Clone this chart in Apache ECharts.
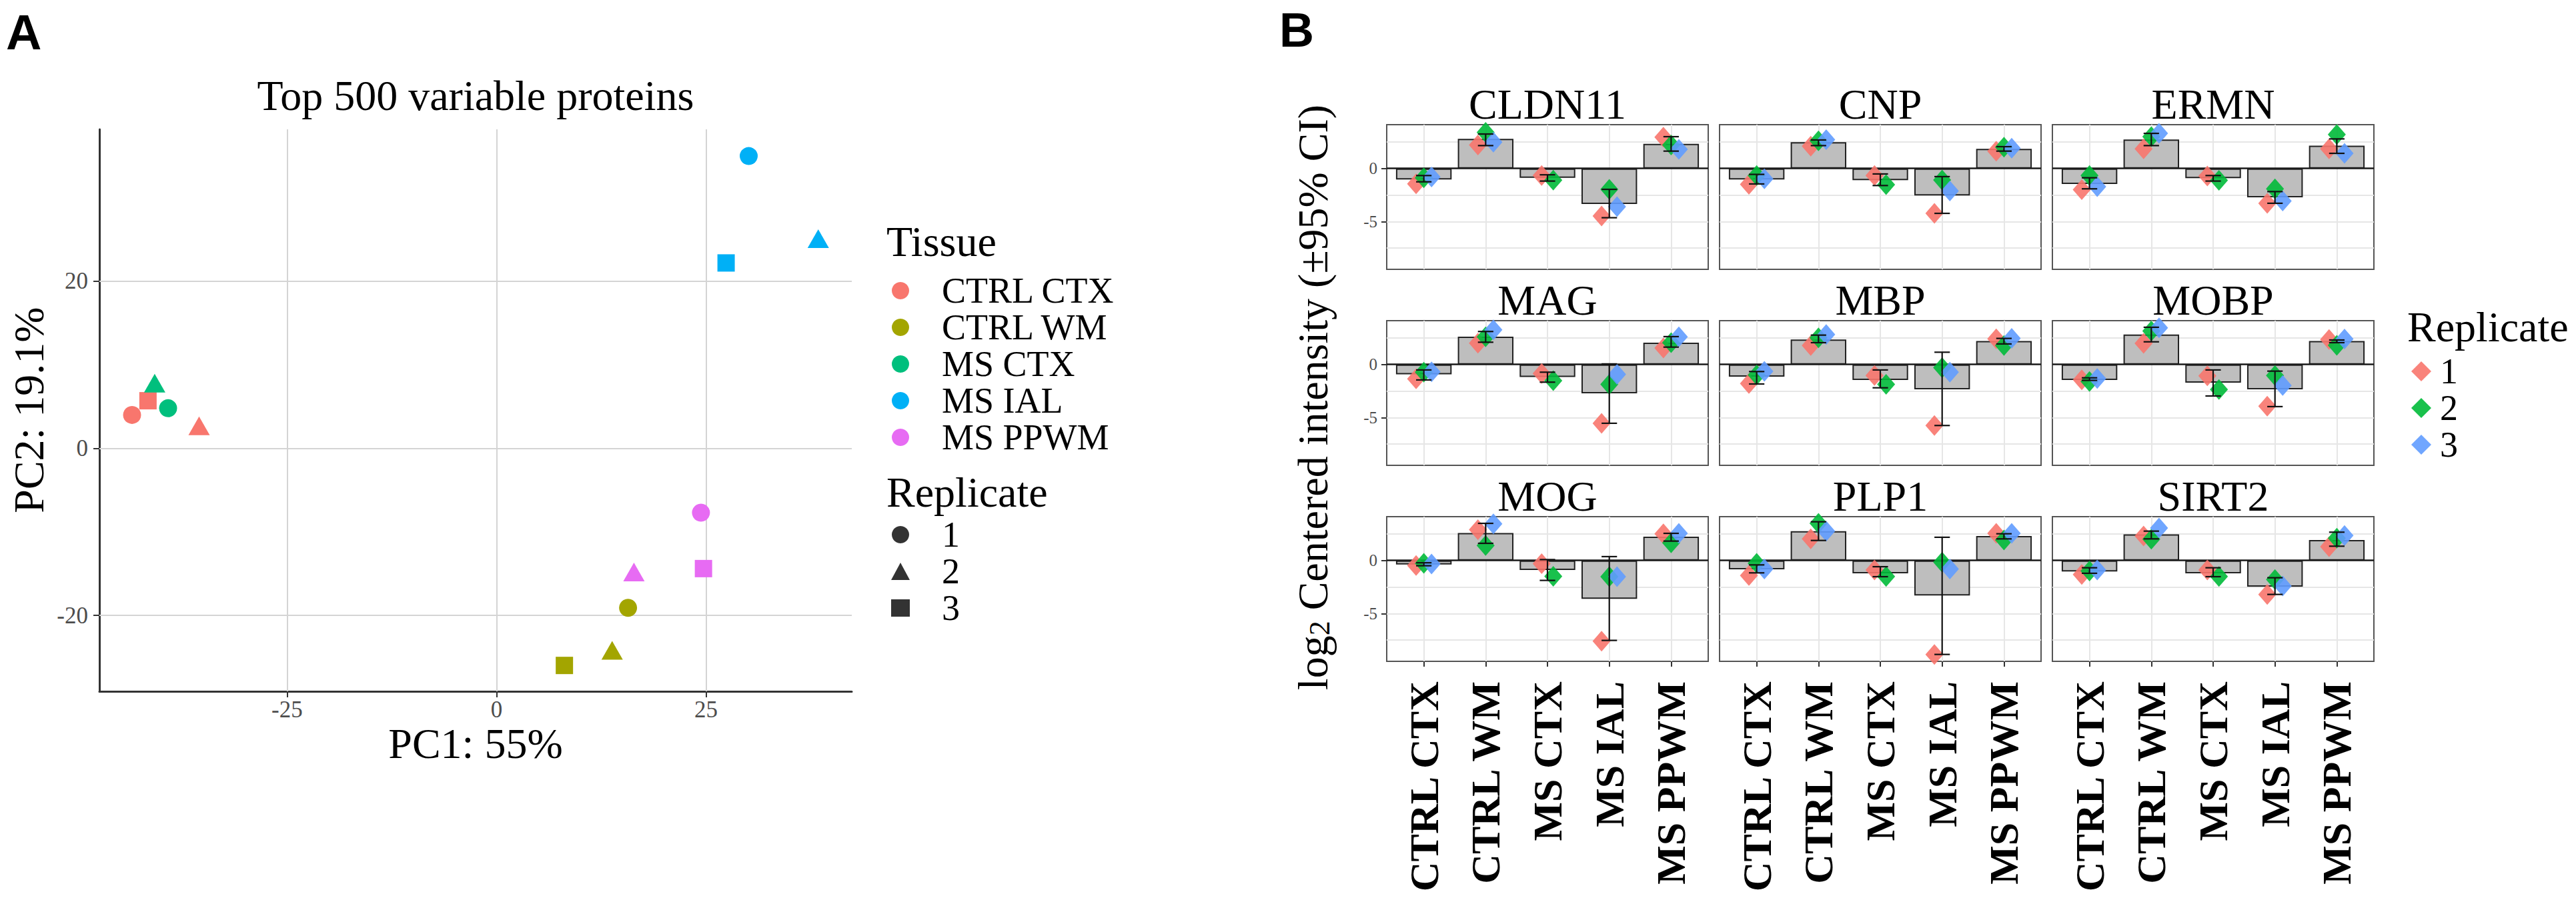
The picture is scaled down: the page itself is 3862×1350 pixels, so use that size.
<!DOCTYPE html>
<html>
<head>
<meta charset="utf-8">
<script src="https://cdn.jsdelivr.net/npm/echarts@6/dist/echarts.min.js"></script>
<style>
html,body{margin:0;padding:0;background:#fff;}
#c{width:3862px;height:1350px;}
</style>
</head>
<body>
<div id="c"></div>
<script>
// ---------------- DATA ----------------
const tissues = ['CTRL CTX', 'CTRL WM', 'MS CTX', 'MS IAL', 'MS PPWM'];
const replicates = ['1', '2', '3'];

// Panel A: PCA scores, rows = tissues, cols = replicates 1..3 (null = not present)
const pcaPC1 = [
  [-43.5, -35.5, -41.6],
  [15.7, 13.8, 8.1],
  [-39.2, -40.8, null],
  [30.1, 38.4, 27.4],
  [24.4, 16.4, 24.7]
];
const pcaPC2 = [
  [4.0, 2.7, 5.7],
  [-19.1, -24.2, -26.0],
  [4.8, 7.8, null],
  [35.0, 25.1, 22.2],
  [-7.7, -14.8, -14.4]
];
const pcaXTicks = [-25, 0, 25];
const pcaYTicks = [-20, 0, 20];

// Panel B: facets (proteins), cols = tissues
const proteins = ['CLDN11', 'CNP', 'ERMN', 'MAG', 'MBP', 'MOBP', 'MOG', 'PLP1', 'SIRT2'];
const barMeans = [
  [-1.05, 2.78, -0.88, -3.35, 2.32],
  [-1.05, 2.47, -1.10, -2.55, 1.84],
  [-1.46, 2.72, -0.92, -2.72, 2.15],
  [-0.94, 2.62, -1.19, -2.72, 2.05],
  [-1.15, 2.34, -1.46, -2.34, 2.20],
  [-1.46, 2.82, -1.72, -2.34, 2.20],
  [-0.38, 2.59, -0.90, -3.62, 2.24],
  [-0.84, 2.76, -1.21, -3.30, 2.30],
  [-1.05, 2.45, -1.21, -2.47, 1.92]
];
const ciLow = [
  [-1.26, 2.15, -1.19, -4.64, 1.63],
  [-1.46, 2.15, -1.61, -4.23, 1.63],
  [-1.92, 2.15, -1.19, -3.28, 1.42],
  [-1.46, 2.09, -1.67, -5.54, 1.63],
  [-1.84, 2.05, -2.20, -5.75, 1.93],
  [-1.50, 2.13, -2.97, -3.97, 2.05],
  [-0.50, 1.61, -1.88, -7.53, 1.82],
  [-1.17, 1.88, -1.53, -8.85, 2.03],
  [-1.21, 2.03, -1.53, -3.20, 1.34]
];
const ciHigh = [
  [-0.67, 3.24, -0.60, -1.97, 2.99],
  [-0.56, 2.68, -0.52, -0.77, 2.05],
  [-0.88, 3.30, -0.67, -2.18, 2.78],
  [-0.52, 3.10, -0.73, 0.05, 2.62],
  [-0.67, 2.76, -0.52, 1.15, 2.45],
  [-1.26, 3.50, -0.52, -0.63, 2.30],
  [-0.22, 3.49, 0.08, 0.36, 2.55],
  [-0.42, 3.64, -0.59, 2.18, 2.51],
  [-0.69, 2.76, -0.69, -1.63, 2.66]
];
const rep1Vals = [
  [-1.45, 2.20, -0.67, -4.48, 2.95],
  [-1.50, 2.10, -0.67, -4.23, 1.63],
  [-2.00, 1.84, -0.72, -3.28, 1.84],
  [-1.36, 2.00, -0.85, -5.54, 1.55],
  [-1.80, 1.78, -1.05, -5.75, 2.41],
  [-1.45, 1.99, -1.08, -3.93, 2.35],
  [-0.48, 2.90, -0.30, -7.60, 2.50],
  [-1.42, 2.03, -0.90, -8.85, 2.55],
  [-1.32, 2.30, -0.90, -3.20, 1.30]
];
const rep2Vals = [
  [-0.88, 3.40, -1.10, -1.97, 2.20],
  [-0.67, 2.60, -1.53, -1.09, 2.00],
  [-0.67, 2.99, -1.12, -1.92, 3.20],
  [-0.73, 2.60, -1.53, -1.88, 2.05],
  [-1.00, 2.51, -1.87, -0.31, 1.78],
  [-1.60, 3.14, -2.36, -1.05, 1.80],
  [-0.27, 1.40, -1.50, -1.53, 1.65],
  [-0.27, 3.49, -1.52, -0.17, 1.92],
  [-1.00, 2.00, -1.52, -1.80, 2.10]
];
const rep3Vals = [
  [-0.80, 2.47, null, -3.60, 1.80],
  [-0.98, 2.70, null, -2.13, 1.90],
  [-1.72, 3.30, null, -3.07, 1.42],
  [-0.70, 3.25, null, -0.94, 2.60],
  [-0.65, 2.82, null, -0.73, 2.45],
  [-1.33, 3.45, null, -1.99, 2.40],
  [-0.33, 3.45, null, -1.53, 2.55],
  [-0.80, 2.76, null, -0.80, 2.55],
  [-0.90, 3.05, null, -2.40, 2.35]
];
const facetYTicks = [-5, 0];
const facetYGrid = [-7.5, -5, -2.5, 2.5];
const facetXTicks = [1, 2, 3, 4, 5];

// ---------------- STYLE / LAYOUT ----------------
const SERIF = 'Liberation Serif';
const SANS = 'Liberation Sans';
const tissueColors = ['#F8766D', '#A3A500', '#00BF7D', '#00B0F6', '#E76BF3'];
const repColors = ['#F8766D', '#00BA38', '#619CFF'];
const pcaShapes = ['circle', 'triangle', 'rect'];
const pcaSizes = [[27, 27], [32, 28], [26, 26]];
const repData = [rep1Vals, rep2Vals, rep3Vals];

const PA = { left: 149, top: 194, width: 1128, height: 843 };
const colLefts = [2079, 2578, 3077];
const rowTops = [187, 481, 775];
const FW = 482, FH = 217;
const DODGE = 0.375, ERR_W = 0.25;
const LEG_FS = 54, LEG_STEP = 55;

const grids = [], xAxes = [], yAxes = [], series = [];

// ---- Panel A ----
grids.push(Object.assign({ show: false, outerBoundsMode: 'none' }, PA));
xAxes.push({
  type: 'value', gridIndex: 0, min: -47.4, max: 42.4,
  axisLine: { show: true, onZero: false, lineStyle: { color: '#333', width: 3 } },
  axisTick: { show: true, customValues: pcaXTicks, length: 9, lineStyle: { color: '#333', width: 2 } },
  axisLabel: { show: true, customValues: pcaXTicks, color: '#4D4D4D', fontFamily: SERIF, fontSize: 35, margin: 10 },
  splitLine: { show: false }
});
yAxes.push({
  type: 'value', gridIndex: 0, min: -29.1, max: 38.2,
  axisLine: { show: true, onZero: false, lineStyle: { color: '#333', width: 3 } },
  axisTick: { show: true, customValues: pcaYTicks, length: 9, lineStyle: { color: '#333', width: 2 } },
  axisLabel: { show: true, customValues: pcaYTicks, color: '#4D4D4D', fontFamily: SERIF, fontSize: 35, margin: 17 },
  splitLine: { show: false }
});
series.push({
  type: 'line', name: '_gridA', xAxisIndex: 0, yAxisIndex: 0, data: [], silent: true,
  markLine: {
    silent: true, z: 1, symbol: ['none', 'none'], label: { show: false },
    lineStyle: { color: '#D4D4D4', width: 2, type: 'solid' },
    emphasis: { disabled: true },
    data: pcaXTicks.map(v => ({ xAxis: v })).concat(pcaYTicks.map(v => ({ yAxis: v })))
  }
});
tissues.forEach((t, i) => {
  const pts = [];
  replicates.forEach((r, j) => {
    if (pcaPC1[i][j] == null) return;
    pts.push({ value: [pcaPC1[i][j], pcaPC2[i][j]], symbol: pcaShapes[j], symbolSize: pcaSizes[j] });
  });
  series.push({
    type: 'scatter', name: t, xAxisIndex: 0, yAxisIndex: 0, z: 3,
    itemStyle: { color: tissueColors[i], opacity: 1 },
    emphasis: { disabled: true }, data: pts
  });
});
replicates.forEach((r, j) => {
  series.push({ type: 'scatter', name: 'pca-rep-' + r, xAxisIndex: 0, yAxisIndex: 0, data: [],
    symbol: pcaShapes[j], itemStyle: { color: '#000' } });
});

// ---- Panel B facets ----
proteins.forEach((p, k) => {
  const row = Math.floor(k / 3), col = k % 3;
  const gi = k + 1;
  grids.push({ left: colLefts[col], top: rowTops[row], width: FW, height: FH, show: true,
    borderColor: '#555', borderWidth: 2, backgroundColor: 'transparent', outerBoundsMode: 'none' });
  xAxes.push({
    type: 'value', gridIndex: gi, min: 0.4, max: 5.6,
    axisLine: { show: false, onZero: false },
    axisTick: { show: row === 2, customValues: facetXTicks, length: 8, lineStyle: { color: '#333', width: 2 } },
    axisLabel: { show: row === 2, customValues: facetXTicks, rotate: 90, margin: 30,
      formatter: v => tissues[Math.round(v) - 1],
      color: '#000', fontFamily: SERIF, fontWeight: 'bold', fontSize: 62 },
    splitLine: { show: false }
  });
  yAxes.push({
    type: 'value', gridIndex: gi, min: -9.5, max: 4.12,
    axisLine: { show: false, onZero: false },
    axisTick: { show: col === 0, customValues: facetYTicks, length: 8, lineStyle: { color: '#333', width: 2 } },
    axisLabel: { show: col === 0, customValues: facetYTicks, color: '#4D4D4D', fontFamily: SERIF, fontSize: 25, margin: 14 },
    splitLine: { show: false }
  });
  // grid lines
  series.push({
    type: 'line', name: '_grid' + p, xAxisIndex: gi, yAxisIndex: gi, data: [], silent: true,
    markLine: {
      silent: true, z: 1, symbol: ['none', 'none'], label: { show: false },
      lineStyle: { color: '#E6E6E6', width: 2, type: 'solid' }, emphasis: { disabled: true },
      data: facetXTicks.map(v => ({ xAxis: v })).concat(facetYGrid.map(v => ({ yAxis: v })))
    }
  });
  // bars
  series.push({
    type: 'bar', name: p + ' mean', xAxisIndex: gi, yAxisIndex: gi, z: 2, barWidth: '90%',
    itemStyle: { color: '#BEBEBE', borderColor: '#222', borderWidth: 2 },
    emphasis: { disabled: true },
    data: barMeans[k].map((m, i) => [i + 1, m]),
    markLine: {
      silent: true, z: 3, symbol: ['none', 'none'], label: { show: false },
      lineStyle: { color: '#1a1a1a', width: 2.5, type: 'solid' }, emphasis: { disabled: true },
      data: [{ yAxis: 0 }]
    }
  });
  // replicate points (dodged)
  replicates.forEach((r, j) => {
    const pts = [];
    tissues.forEach((t, i) => {
      const v = repData[j][k][i];
      if (v == null) return;
      const present = repData.map(a => a[k][i]).map((x, idx) => x == null ? -1 : idx).filter(x => x >= 0);
      const n = present.length, pos = present.indexOf(j);
      const off = (pos - (n - 1) / 2) * (DODGE / n);
      pts.push([i + 1 + off, v]);
    });
    series.push({
      type: 'scatter', name: r, xAxisIndex: gi, yAxisIndex: gi, z: 4,
      symbol: 'diamond', symbolSize: [27, 31],
      itemStyle: { color: repColors[j], opacity: 0.9 },
      emphasis: { disabled: true }, data: pts
    });
  });
  // error bars
  series.push({
    type: 'custom', name: p + ' CI', xAxisIndex: gi, yAxisIndex: gi, z: 5, silent: true,
    encode: { x: 0, y: [1, 2] },
    data: tissues.map((t, i) => [i + 1, ciLow[k][i], ciHigh[k][i]]),
    renderItem: (params, api) => {
      const x = api.value(0);
      const top = api.coord([x, api.value(2)]);
      const bot = api.coord([x, api.value(1)]);
      const half = api.size([ERR_W / 2, 0])[0];
      const st = { stroke: '#111', lineWidth: 2.2 };
      return { type: 'group', children: [
        { type: 'line', shape: { x1: top[0], y1: top[1], x2: bot[0], y2: bot[1] }, style: st },
        { type: 'line', shape: { x1: top[0] - half, y1: top[1], x2: top[0] + half, y2: top[1] }, style: st },
        { type: 'line', shape: { x1: bot[0] - half, y1: bot[1], x2: bot[0] + half, y2: bot[1] }, style: st }
      ] };
    }
  });
});

// ---- Texts ----
function txt(text, x, y, size, family, opts) {
  opts = opts || {};
  return { type: 'text', x: x, y: y, rotation: opts.rot || 0, silent: true,
    style: { text: text, fontSize: size, fontFamily: family, fontWeight: opts.weight || 'normal',
      fill: opts.fill || '#000', align: opts.align || 'center',
      verticalAlign: 'middle', rich: opts.rich } };
}
const graphics = [
  txt('A', 9, 48, 74, SANS, { align: 'left', weight: 'bold' }),
  txt('B', 1918, 45, 72, SANS, { align: 'left', weight: 'bold' }),
  txt('Top 500 variable proteins', 713, 143, 64, SERIF),
  txt('PC1: 55%', 713, 1115, 64, SERIF),
  txt('PC2: 19.1%', 43, 615, 64, SERIF, { rot: Math.PI / 2 }),
  txt('Tissue', 1329, 362, 64, SERIF, { align: 'left' }),
  txt('Replicate', 1329, 738, 64, SERIF, { align: 'left' }),
  txt('Replicate', 3609, 490, 64, SERIF, { align: 'left' }),
  txt('{n|log}{s|2}{n| Centered intensity (±95% CI)}', 1968, 596, 64, SERIF, {
    rot: Math.PI / 2,
    rich: {
      n: { fontFamily: SERIF, fontSize: 64, lineHeight: 64, fill: '#000' },
      s: { fontFamily: SERIF, fontSize: 44, lineHeight: 20, verticalAlign: 'bottom', fill: '#000' }
    }
  })
];
proteins.forEach((p, k) => {
  const row = Math.floor(k / 3), col = k % 3;
  graphics.push(txt(p, colLefts[col] + FW / 2, rowTops[row] - 31, 64, SERIF));
});

function legendRich(pad) {
  return { rich: { t: { fontFamily: SERIF, fontSize: LEG_FS, lineHeight: LEG_FS, color: '#000', padding: [0, 0, 0, pad] } } };
}

const option = {
  animation: false,
  backgroundColor: '#fff',
  grid: grids, xAxis: xAxes, yAxis: yAxes, series: series,
  legend: [
    {
      orient: 'vertical', left: 1337, top: 436 - LEG_FS / 2, padding: 0, itemGap: LEG_STEP - LEG_FS,
      itemWidth: 26, itemHeight: 26, icon: 'circle', selectedMode: false,
      data: tissues,
      formatter: n => '{t|' + n + '}',
      textStyle: legendRich(44)
    },
    {
      orient: 'vertical', left: 1336, top: 802 - LEG_FS / 2, padding: 0, itemGap: LEG_STEP - LEG_FS,
      itemWidth: 28, itemHeight: 26, selectedMode: false,
      data: replicates.map((r, j) => ({ name: 'pca-rep-' + r, icon: pcaShapes[j] })),
      formatter: n => '{t|' + n.slice(-1) + '}',
      textStyle: legendRich(43)
    },
    {
      orient: 'vertical', left: 3615, top: 557 - LEG_FS / 2, padding: 0, itemGap: LEG_STEP - LEG_FS,
      itemWidth: 30, itemHeight: 30, icon: 'diamond', selectedMode: false,
      data: replicates,
      formatter: n => '{t|' + n + '}',
      textStyle: legendRich(8)
    }
  ],
  graphic: { elements: graphics }
};

const chart = echarts.init(document.getElementById('c'), null, { renderer: 'svg', width: 3862, height: 1350 });
chart.setOption(option);
</script>
</body>
</html>
